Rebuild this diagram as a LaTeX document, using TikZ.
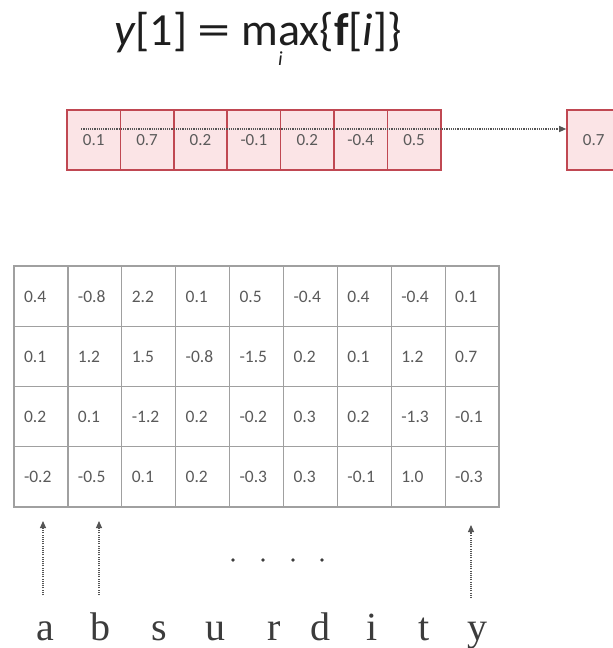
\documentclass[tikz,border=0pt]{standalone}
\usepackage{graphicx}
\usepackage{fontspec}
\setmainfont{Carlito}
\newfontfamily\serifletters{Liberation Serif}
\usetikzlibrary{arrows.meta}
\definecolor{boxfill}{RGB}{251,228,230}
\definecolor{boxline}{RGB}{192,72,82}
\definecolor{gridline}{RGB}{160,160,160}
\definecolor{numtext}{RGB}{90,90,90}
\definecolor{arrowgray}{RGB}{85,85,85}
\definecolor{lettergray}{RGB}{60,60,60}
\newcommand{\maxwithsub}{\setbox0\hbox{max}\rlap{\copy0}\hbox to \wd0{\hss\raisebox{-20pt}{\fontsize{20}{20}\selectfont\itshape i}\hss}}
\begin{document}
\begin{tikzpicture}[x=1pt,y=-1pt,
  vecbox/.style={draw=boxline, fill=boxfill, line width=1.6pt, minimum width=53.4pt, minimum height=60pt, inner sep=0pt, text=numtext, font=\fontsize{17}{17}\selectfont},
  cell/.style={draw=gridline, line width=1.3pt, minimum height=60.3pt, text width=33.9pt, inner xsep=10pt, inner ysep=0pt, text height=12pt, text depth=0pt, align=left, text=numtext, font=\fontsize{17.5}{17.5}\selectfont},
  dotarrow/.style={arrowgray, line width=1.1pt, dash pattern=on 1.1pt off 1.1pt, -{Triangle[length=7pt,width=6pt]}},
  letter/.style={font=\serifletters\fontsize{40}{40}\selectfont, text=lettergray, anchor=base, inner sep=0pt},
]
\useasboundingbox (0,0) rectangle (613,648);
\clip (0,0) rectangle (613,648);

% title
\node[anchor=base west, inner sep=0pt, font=\fontsize{46}{46}\selectfont, text={rgb,255:red,30;green,30;blue,30}] (title) at (114,45)
  {\textit{y}[1] \scalebox{1.45}[1]{=} \maxwithsub\{\textbf{f}[\textit{i}]\}};

% top vector
\foreach \v [count=\k] in {0.1,0.7,0.2,-0.1,0.2,-0.4,0.5}
  \node[vecbox] (vec-\k) at ({67+53.4*(\k-0.5)},140) {\v};
\node[vecbox] (res) at ({567+26.7},140) {0.7};
\draw[dotarrow] ([xshift=15pt,yshift=11pt]vec-1.west) -- ([yshift=11pt]res.west);

% grid
\foreach \row [count=\i] in {
  {0.4,-0.8,2.2,0.1,0.5,-0.4,0.4,-0.4,0.1},
  {0.1,1.2,1.5,-0.8,-1.5,0.2,0.1,1.2,0.7},
  {0.2,0.1,-1.2,0.2,-0.2,0.3,0.2,-1.3,-0.1},
  {-0.2,-0.5,0.1,0.2,-0.3,0.3,-0.1,1.0,-0.3}} {
  \foreach \v [count=\j] in \row {
    \node[cell] (cell-\i-\j) at ({14+53.9*(\j-0.5)},{266+60.25*(\i-0.5)}) {\v};
  }
}

% letters
\foreach \ch/\x [count=\k] in {a/45,b/100,s/159,u/215,r/274,d/320,i/372,t/424,y/477}
  \node[letter] (l\k) at (\x,640) {\ch};

% arrows
\coordinate (sa) at (43,595); \coordinate (ta) at (43,521);
\coordinate (sb) at (99,595); \coordinate (tb) at (99,521);
\coordinate (sy) at (471,598); \coordinate (ty) at (471,525);
\draw[dotarrow] (sa) -- (ta);
\draw[dotarrow] (sb) -- (tb);
\draw[dotarrow] (sy) -- (ty);

% dots
\foreach \x in {233,263,293,322}
  \fill[lettergray] (\x,560) circle (1.8pt);
\end{tikzpicture}
\end{document}
